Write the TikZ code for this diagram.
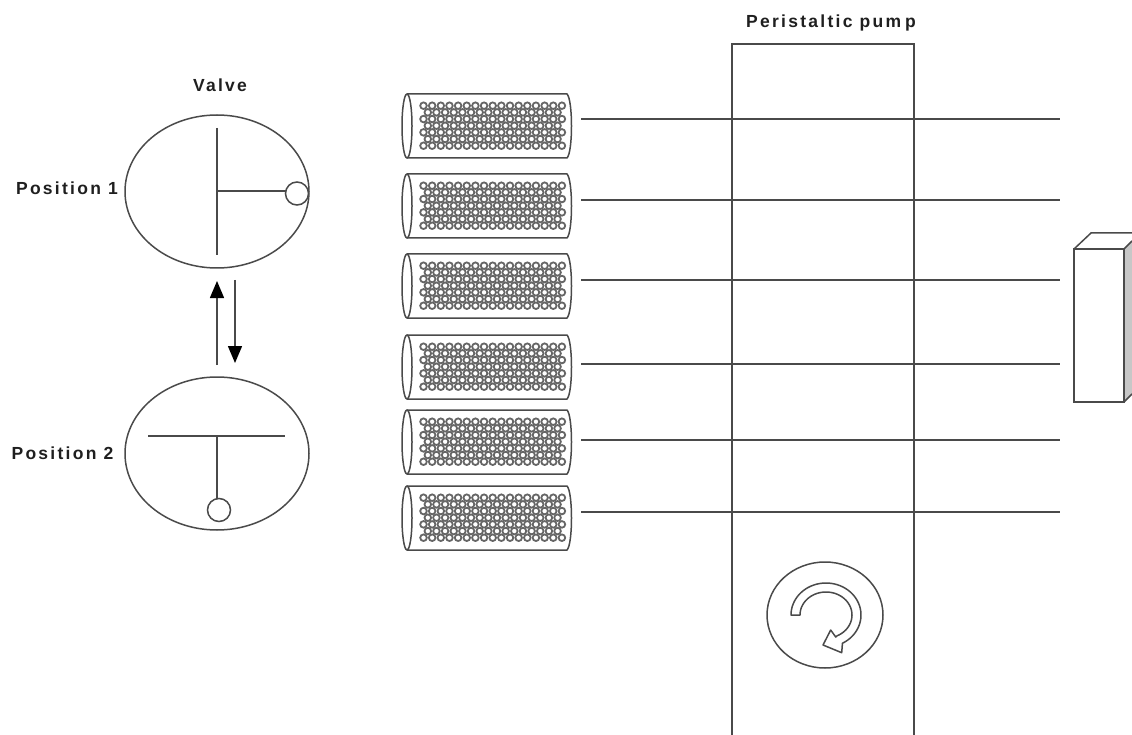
\documentclass[tikz,border=0pt]{standalone}
\usepackage{fontspec}
\setmainfont{Liberation Sans}
\newfontfamily\lblfont[LetterSpace=13,BoldFont=*,UprightFont=* Bold]{Liberation Sans}
\usetikzlibrary{shapes.geometric,arrows.meta}
\definecolor{ink}{HTML}{4A4A4A}
\tikzset{
  ln/.style={draw=ink,line width=1.5pt},
  thin ln/.style={draw=ink,line width=1.5pt},
  valve/.style={ellipse,ln,inner sep=0pt,outer sep=0pt,minimum width=184pt,minimum height=153pt},
  port/.style={circle,ln,fill=white,inner sep=0pt,outer sep=0pt,minimum size=23pt},
  lbl/.style={font=\lblfont\fontsize{17.5}{20}\selectfont,text=black!88,inner sep=0pt},
  flow/.style={ln,-{Triangle[length=17pt,width=14pt,color=black]}},
  fibre/.style={draw=black!60,line width=1.8pt},
}
\begin{document}
\begin{tikzpicture}[x=1pt,y=-1pt]
\useasboundingbox (0,0) rectangle (1132,735);
% labels
\node[lbl] (tvalve) at (220,85) {Valve};
\node[lbl] (tp1) at (67,188) {Position 1};
\node[lbl] (tp2) at (62.5,453) {Position 2};
\node[lbl] (tpump) at (831,23) {Peristaltic pum\kern4pt p};
% valves
\node[valve] (v1) at (217,191.5) {};
\node[valve] (v2) at (217,453.5) {};
\coordinate (v1t) at (217,128);
\coordinate (v1b) at (217,255);
\coordinate (v1m) at (217,191);
\node[port] (p1) at (297,193.5) {};
\draw[ln] (v1t) -- (v1b);
\draw[ln] (v1m) -- (p1.west |- v1m);
\coordinate (v2l) at (148,436);
\coordinate (v2r) at (285,436);
\coordinate (v2m) at (217,436);
\node[port] (p2) at (219,510) {};
\draw[ln] (v2l) -- (v2r);
\draw[ln] (v2m) -- (v2m |- p2.north);
% arrows between valves
\coordinate (upa) at (217,365);
\coordinate (upb) at (217,281);
\coordinate (dna) at (235,280);
\coordinate (dnb) at (235,363);
\draw[flow] (upa) -- (upb);
\draw[flow] (dna) -- (dnb);
% pump
\coordinate (pa) at (732,735);
\coordinate (pb) at (732,44);
\coordinate (pc) at (914,44);
\coordinate (pd) at (914,735);
\draw[ln] (pa) -- (pb) -- (pc) -- (pd);
% detector box
\coordinate (d1) at (1074,249);
\coordinate (d2) at (1124,249);
\coordinate (d3) at (1124,402);
\coordinate (d4) at (1074,402);
\fill[black!22] (d2) -- (1132,241) -- (1132,394) -- (d3) -- cycle;
\draw[ln] (d1) -- (d2) -- (d3) -- (d4) -- cycle;
\draw[ln] (d1) -- (1091,233) -- (1132,233);
\draw[ln] (d2) -- (1132,241);
\draw[ln] (d3) -- (1132,394);
% columns and tubes
\foreach \n/\t/\ly in {1/94/119,2/174/200,3/254/280,4/335/364,5/410/440,6/486/512}{
  \foreach \k in {0,...,6}{
    \pgfmathtruncatemacro{\odd}{mod(\k,2)}
    \ifnum\odd=0
      \foreach \i in {0,...,16}{
        \draw[fibre] ({423.5+8.65*\i},{\t+11.7+6.67*\k}) circle[radius=3.3pt];
      }
    \else
      \foreach \i in {0,...,15}{
        \draw[fibre] ({427.8+8.65*\i},{\t+11.7+6.67*\k}) circle[radius=3.3pt];
      }
    \fi
  }
  \draw[ln] (407,\t) -- (567,\t) .. controls (573,\t+6) and (573,\t+58) .. (567,\t+64) -- (407,\t+64);
  \node[ellipse,ln,fill=white,inner sep=0pt,outer sep=0pt,minimum width=10pt,minimum height=64pt] (c\n) at (407,\t+32) {};
  \coordinate (ta\n) at (581,\ly);
  \coordinate (tb\n) at (1060,\ly);
  \draw[thin ln] (ta\n) -- (tb\n);
}
% rotor
\node[ellipse,ln,inner sep=0pt,outer sep=0pt,minimum width=116pt,minimum height=106pt] (rotor) at (825,615) {};
\draw[ln,line join=round]
  plot[domain=180:422,samples=50] ({826+35*cos(\x)},{615+32*sin(\x)})
  -- (841.7,652.7) -- (823,645) -- (830.7,630) -- (835.7,637)
  -- plot[domain=425:180,samples=50] ({826+26*cos(\x)},{615+23*sin(\x)}) -- cycle;
\end{tikzpicture}
\end{document}
